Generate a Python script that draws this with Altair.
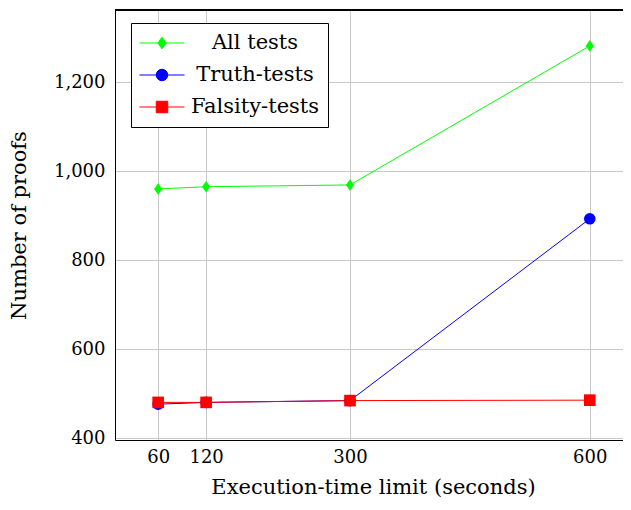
import altair as alt
import pandas as pd

limits = [60, 120, 300, 600]
series = ["All tests", "Truth-tests", "Falsity-tests"]
all_tests = [960, 965, 969, 1281]
truth_tests = [477, 481, 485, 893]
falsity_tests = [481, 481, 485, 486]
colors = ["#00ff00", "#0000ff", "#ff0000"]
y_ticks = [400, 600, 800, 1000, 1200]

marker_shapes = ["M0,-1L0.71,0L0,1L-0.71,0Z", "circle", "square"]
legend_shapes = [
    "M-1,0L1,0M0,-0.26L0.184,0L0,0.26L-0.184,0Z",
    "M-1,0L1,0M0.256,0A0.256,0.256,0,1,1,-0.256,0A0.256,0.256,0,1,1,0.256,0Z",
    "M-1,0L1,0M-0.256,-0.256L0.256,-0.256L0.256,0.256L-0.256,0.256Z",
]

rows = []
for name, vals in zip(series, [all_tests, truth_tests, falsity_tests]):
    for x, v in zip(limits, vals):
        rows.append({"limit": x, "proofs": v, "series": name})
df = pd.DataFrame(rows)

FONT = "DejaVu Serif"
W, H = 508, 430

xscale = alt.Scale(domain=[6, 6 + W / 0.7993], nice=False, zero=False)
yscale = alt.Scale(domain=[396.6, 1361.6], nice=False, zero=False)

xenc = alt.X("limit:Q", scale=xscale,
             axis=alt.Axis(values=limits, title="Execution-time limit (seconds)",
                           labelBaseline="middle", labelPadding=17,
                           titleX=258, titleY=47, titleBaseline="middle",
                           titleAlign="center"))
yenc = alt.Y("proofs:Q", scale=yscale,
             axis=alt.Axis(values=y_ticks, format=",d", title="Number of proofs",
                           labelPadding=10, labelBaseline="middle",
                           titleX=-96, titleY=215, titleAngle=270,
                           titleAlign="center", titleBaseline="middle"))

cscale = alt.Scale(domain=series, range=colors)

base = alt.Chart(df)

lines = base.mark_line(strokeWidth=1).encode(
    x=xenc, y=yenc,
    color=alt.Color("series:N", scale=cscale, legend=None),
    order=alt.Order("limit:Q"),
)

point_layers = []
for name, shp in zip(series, marker_shapes):
    point_layers.append(
        base.transform_filter(alt.datum.series == name)
        .mark_point(filled=True, opacity=1, size=135, shape=shp)
        .encode(
            x=xenc, y=yenc,
            color=alt.Color("series:N", scale=cscale, legend=None),
        )
    )

# top frame line of the pgfplots box
top_frame = alt.Chart(df).mark_rule(color="black", strokeWidth=1).encode(
    y=alt.value(0)
)

# per-entry colour expression for the legend symbols
color_expr = "'" + colors[-1] + "'"
for name, col in reversed(list(zip(series[:-1], colors[:-1]))):
    color_expr = f"(datum.value === '{name}' ? '{col}' : {color_expr})"

leg = alt.Legend(
    title=None, orient="none", legendX=16, legendY=13,
    symbolSize=2025, symbolStrokeWidth=1, clipHeight=24, rowPadding=8,
    padding=8, labelOffset=70, labelAlign="center", labelFont=FONT,
    labelFontSize=21, labelColor="black", labelLimit=400,
    strokeColor="black", fillColor="white", symbolOpacity=1,
    symbolFillColor={"expr": color_expr},
    symbolStrokeColor={"expr": color_expr},
)

legend_layer = base.transform_filter("datum.proofs < 0").mark_point(
    filled=True, strokeWidth=1
).encode(
    x=xenc, y=yenc,
    shape=alt.Shape("series:N", scale=alt.Scale(domain=series, range=legend_shapes), legend=leg),
    fill=alt.Fill("series:N", scale=cscale, legend=None),
    stroke=alt.Stroke("series:N", scale=cscale, legend=None),
)

chart = alt.layer(lines, *point_layers, top_frame, legend_layer).resolve_scale(
    shape="independent"
).properties(
    width=W, height=H,
    autosize=alt.AutoSizeParams(type="none"),
    padding={"left": 107, "top": 2, "right": 0, "bottom": 58},
).configure_view(
    stroke="transparent"
).configure_axis(
    labelFont=FONT, titleFont=FONT, labelFontSize=18, titleFontSize=21,
    labelColor="black", titleColor="black", titleFontWeight="normal",
    ticks=False, domainColor="black", domainWidth=1,
    gridColor="#c8c8c8", gridWidth=1, grid=True,
)

chart.save("out.html", embed_options={"renderer": "svg", "actions": False})
